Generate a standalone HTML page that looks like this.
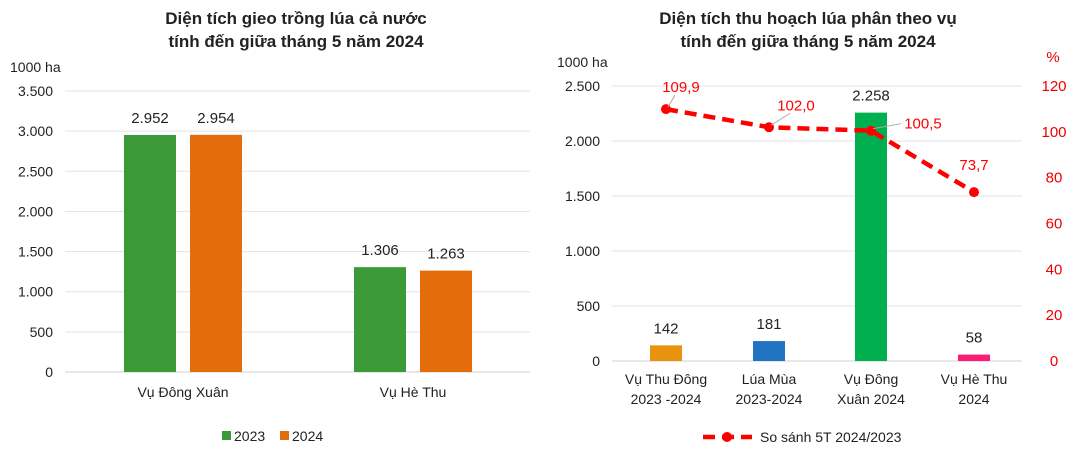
<!DOCTYPE html>
<html><head><meta charset="utf-8"><style>
body{margin:0;background:#fff;font-family:"Liberation Sans",sans-serif}
svg text{font-family:"Liberation Sans",sans-serif}
</style></head><body>
<svg width="1076" height="461" xmlns="http://www.w3.org/2000/svg" id="svg">
<g id="left"></g>
<g id="right"></g>
</svg>
<script>
const NS="http://www.w3.org/2000/svg";
const leftCats=["Vụ Đông Xuân","Vụ Hè Thu"];
const left2023=[2952,1306];
const left2024=[2954,1263];
const leftTicks=[0,500,1000,1500,2000,2500,3000,3500];
const leftLabels2023=["2.952","1.306"];
const leftLabels2024=["2.954","1.263"];
const rightCats=[["Vụ Thu Đông","2023 -2024"],["Lúa Mùa","2023-2024"],["Vụ Đông","Xuân 2024"],["Vụ Hè Thu","2024"]];
const rightBars=[142,181,2258,58];
const rightBarLabels=["142","181","2.258","58"];
const rightPct=[109.9,102.0,100.5,73.7];
const rightPctLabels=["109,9","102,0","100,5","73,7"];
const rightTicks=[0,500,1000,1500,2000,2500];
const rightTickLabels=["0","500","1.000","1.500","2.000","2.500"];
const pctTicks=[0,20,40,60,80,100,120];
function el(p,t,a,txt){const e=document.createElementNS(NS,t);for(const k in a)e.setAttribute(k,a[k]);if(txt!==undefined)e.textContent=txt;p.appendChild(e);return e;}
function fmt(v){return v.toLocaleString('de-DE');}
// LEFT
const L=document.getElementById('left');
const ly=v=>372-v*(281/3500);
el(L,'text',{x:296,y:24,'text-anchor':'middle','font-size':17,'font-weight':'bold',fill:'#222',},"Diện tích gieo trồng lúa cả nước");
el(L,'text',{x:296,y:47,'text-anchor':'middle','font-size':17,'font-weight':'bold',fill:'#222',},"tính đến giữa tháng 5 năm 2024");
el(L,'text',{x:10,y:72,'font-size':14,fill:'#222',},"1000 ha");
leftTicks.forEach(t=>{
 if(t>0){const g=el(L,'line',{x1:65,x2:530,y1:ly(t),y2:ly(t),stroke:'#e3e3e3','stroke-width':1});}
 const tx=el(L,'text',{x:53,y:ly(t)+5,'text-anchor':'end','font-size':14,fill:'#222'},fmt(t));
 
});
el(L,'line',{x1:65,x2:530,y1:372,y2:372,stroke:'#d0d0d0',});
const lcx=[183,413];
leftCats.forEach((c,i)=>{
 const b1=el(L,'rect',{x:lcx[i]-59,y:ly(left2023[i]),width:52,height:372-ly(left2023[i]),fill:'#3b9a37'});
 
 const b2=el(L,'rect',{x:lcx[i]+7,y:ly(left2024[i]),width:52,height:372-ly(left2024[i]),fill:'#e46c0a'});
 
 const t1=el(L,'text',{x:lcx[i]-33,y:ly(left2023[i])-12,'text-anchor':'middle','font-size':15,fill:'#222'},leftLabels2023[i]);
 
 const t2=el(L,'text',{x:lcx[i]+33,y:ly(left2024[i])-12,'text-anchor':'middle','font-size':15,fill:'#222'},leftLabels2024[i]);
 
 const xc=el(L,'text',{x:lcx[i],y:397,'text-anchor':'middle','font-size':14,fill:'#222'},c);
 
});
el(L,'rect',{x:222,y:431,width:9,height:9,fill:'#3b9a37',});
el(L,'text',{x:234,y:441,'font-size':14,fill:'#222',},"2023");
el(L,'rect',{x:280,y:431,width:9,height:9,fill:'#e46c0a',});
el(L,'text',{x:292,y:441,'font-size':14,fill:'#222',},"2024");
// RIGHT
const R=document.getElementById('right');
const ry=v=>361-v*(275/2500);
const py=v=>361-v*(275/120);
el(R,'text',{x:808,y:24,'text-anchor':'middle','font-size':17,'font-weight':'bold',fill:'#222',},"Diện tích thu hoạch lúa phân theo vụ");
el(R,'text',{x:808,y:47,'text-anchor':'middle','font-size':17,'font-weight':'bold',fill:'#222',},"tính đến giữa tháng 5 năm 2024");
el(R,'text',{x:557,y:67,'font-size':14,fill:'#222',},"1000 ha");
el(R,'text',{x:1053,y:62,'text-anchor':'middle','font-size':15,fill:'#e00',},"%");
rightTicks.forEach((t,i)=>{
 if(t>0){const g=el(R,'line',{x1:612,x2:1022,y1:ry(t),y2:ry(t),stroke:'#e3e3e3'});}
 const tx=el(R,'text',{x:600,y:ry(t)+5,'text-anchor':'end','font-size':14,fill:'#222'},rightTickLabels[i]);
 
});
pctTicks.forEach(t=>{
 const tx=el(R,'text',{x:1054,y:py(t)+5,'text-anchor':'middle','font-size':15,fill:'#e00'},String(t));
 
});
el(R,'line',{x1:612,x2:1022,y1:361,y2:361,stroke:'#d0d0d0',});
const rcx=[666,769,871,974];
const colors=['#e8920e','#1f73c0','#00b050','#ff1a75'];
rightCats.forEach((c,i)=>{
 const b=el(R,'rect',{x:rcx[i]-16,y:ry(rightBars[i]),width:32,height:361-ry(rightBars[i]),fill:colors[i]});
 
 const t=el(R,'text',{x:rcx[i],y:ry(rightBars[i])-12,'text-anchor':'middle','font-size':15,fill:'#222'},rightBarLabels[i]);
 
 c.forEach((ln,j)=>{const x=el(R,'text',{x:rcx[i],y:384+j*20,'text-anchor':'middle','font-size':14,fill:'#222'},ln);
  });
});
const pts=rightPct.map((v,i)=>rcx[i]+','+py(v)).join(' ');
el(R,'polyline',{points:pts,fill:'none',stroke:'#f00','stroke-width':4.5,'stroke-dasharray':'12 7',});
const offs=[[15,-22],[27,-22],[52,-7],[0,-27]];
rightPct.forEach((v,i)=>{
 const c=el(R,'circle',{cx:rcx[i],cy:py(v),r:5,fill:'#f00'});
 
 if(i<3){const l=el(R,'line',{x1:rcx[i]+2,y1:py(v)-2,x2:rcx[i]+offs[i][0]-(i==2?22:6),y2:py(v)+offs[i][1]+(i==2?0:8),stroke:'#aaa','stroke-width':1});}
 const t=el(R,'text',{x:rcx[i]+offs[i][0],y:py(v)+offs[i][1]+5,'text-anchor':'middle','font-size':15,fill:'#f00'},rightPctLabels[i]);
 
});
el(R,'line',{x1:703,x2:752,y1:437,y2:437,stroke:'#f00','stroke-width':4.5,'stroke-dasharray':'12 7',});
el(R,'circle',{cx:727,cy:437,r:5,fill:'#f00',});
el(R,'text',{x:760,y:442,'font-size':14,fill:'#222',},"So sánh 5T 2024/2023");
</script>
</body></html>
